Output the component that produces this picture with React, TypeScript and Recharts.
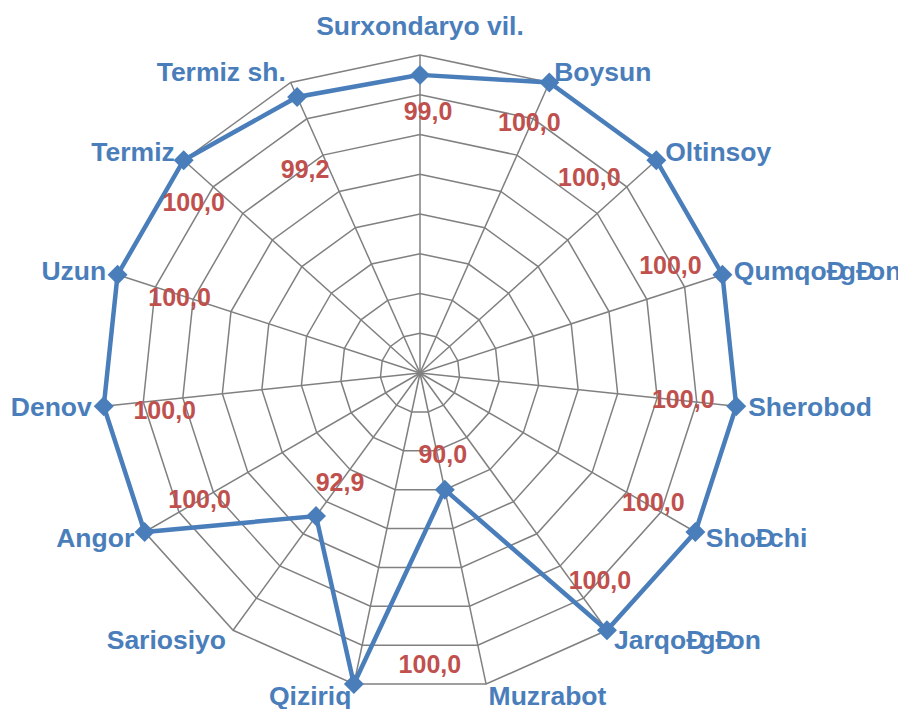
import React from 'react';
import { RadarChart, Radar, PolarGrid, PolarAngleAxis, PolarRadiusAxis } from 'recharts';

const categories = [
  'Surxondaryo vil.', 'Boysun', 'Oltinsoy', 'QumqoÐgÐon', 'Sherobod', 'ShoÐchi',
  'JarqoÐgÐon', 'Muzrabot', 'Qiziriq', 'Sariosiyo', 'Angor', 'Denov', 'Uzun',
  'Termiz', 'Termiz sh.',
];
const values = [99.0, 100.0, 100.0, 100.0, 100.0, 100.0, 100.0, 90.0, 100.0, 92.9, 100.0, 100.0, 100.0, 100.0, 99.2];
const radiusDomain: [number, number] = [84, 100];
const radiusTickCount = 9;

// label offsets (px) relative to each data point (style only)
const labelShift: [number, number][] = [
  [8, 36], [-20, 40], [-67, 17], [-52, -10], [-53, -7], [-42, -30], [-7, -50],
  [-2, -36], [76, -20], [24, -34], [55, -33], [61, 4], [62, 22], [10, 42], [8, 72],
];

const data = categories.map((name, i) => ({ name, value: values[i] }));

const W = 898;
const H = 701;
const CX = 412;
const CY = 365;
const R = 318;
const BLUE = '#4A7EBB';
const RED = '#C0504D';
const FONT = '"Liberation Sans", Arial, sans-serif';

const renderLabelText = (s: string) => {
  const parts = s.split('Ð');
  const out: any[] = [<tspan key="p0">{parts[0]}</tspan>];
  for (let i = 1; i < parts.length; i++) {
    out.push(<tspan key={`d${i}`}>Ð</tspan>);
    out.push(<tspan key={`p${i}`} dx={-6}>{parts[i]}</tspan>);
  }
  return out;
};

const AngleTick = (props: any) => {
  const { payload } = props;
  const ang = (payload.coordinate * Math.PI) / 180;
  const c = Math.cos(ang);
  const s = Math.sin(ang);
  const anchor = c > 0.01 ? 'start' : c < -0.01 ? 'end' : 'middle';
  const off = anchor === 'middle' ? 29 : 12;
  const x = CX + (R + off) * c;
  const y = CY - (R + off) * s;
  return (
    <text x={x} y={y} textAnchor={anchor} dominantBaseline="central" fill={BLUE}
      fontFamily={FONT} fontWeight="bold" fontSize={26.5}>
      {renderLabelText(String(payload.value))}
    </text>
  );
};

const Dot = (props: any) => {
  const { cx, cy, index } = props;
  const d = 10;
  const sh = labelShift[index] || [0, 0];
  const txt = values[index].toFixed(1).replace('.', ',');
  return (
    <g key={`dot-${index}`}>
      <path d={`M${cx},${cy - d} L${cx + d},${cy} L${cx},${cy + d} L${cx - d},${cy} Z`} fill={BLUE} />
      <text x={cx + sh[0]} y={cy + sh[1]} textAnchor="middle" dominantBaseline="central"
        fill={RED} fontFamily={FONT} fontWeight="bold" fontSize={25}>
        {txt}
      </text>
    </g>
  );
};

export default function App() {
  return (
    <RadarChart width={W} height={H} data={data} cx={CX} cy={CY} outerRadius={R}
      margin={{ top: 0, right: 0, bottom: 0, left: 0 }}>
      <PolarGrid gridType="polygon" stroke="#808080" strokeWidth={1.5} />
      <PolarRadiusAxis domain={radiusDomain} tickCount={radiusTickCount} tick={false} axisLine={false} />
      <PolarAngleAxis dataKey="name" tick={AngleTick} tickLine={false} axisLine={false} />
      <Radar dataKey="value" stroke={BLUE} strokeWidth={4.5} fill="none" fillOpacity={0}
        dot={Dot} isAnimationActive={false} />
    </RadarChart>
  );
}
